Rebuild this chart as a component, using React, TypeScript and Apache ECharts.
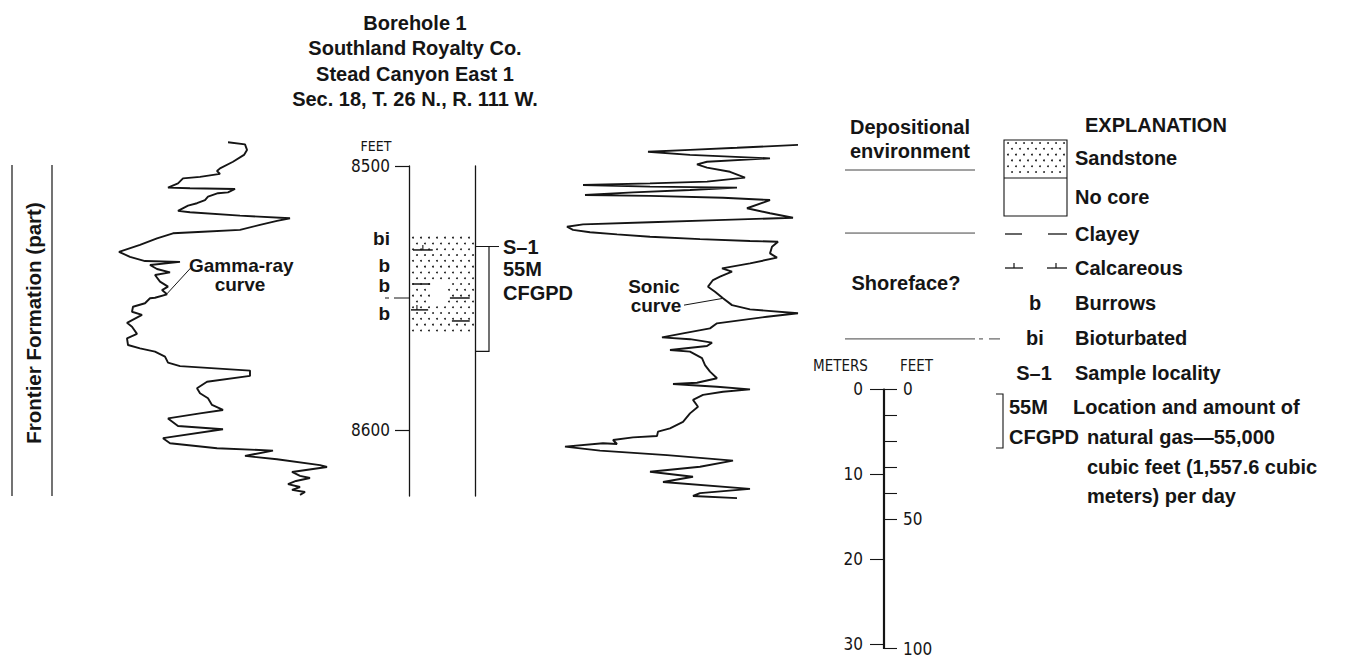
import React, { useEffect, useRef } from "react";
import * as echarts from "echarts";

// ---------------- Data ----------------
const titleLines = ["Borehole 1", "Southland Royalty Co.", "Stead Canyon East 1", "Sec. 18, T. 26 N., R. 111 W."];

// Gamma-ray log (relative reading) versus depth in feet
const gammaDepths = [
  8491.0, 8491.8, 8493.9, 8495.8, 8498.4, 8500.9, 8501.9, 8503.0, 8504.1, 8504.7,
  8506.6, 8508.2, 8508.4, 8508.7, 8510.0, 8510.3, 8511.6, 8512.9, 8514.1, 8515.0,
  8517.0, 8517.5, 8518.8, 8519.8, 8520.8, 8522.3, 8524.2, 8524.9, 8525.5, 8527.4,
  8529.9, 8532.5, 8534.4, 8536.0, 8536.3, 8537.5, 8539.0, 8540.3, 8541.3, 8543.8,
  8545.7, 8547.0, 8548.6, 8549.9, 8550.1, 8552.0, 8553.3, 8555.2, 8556.4, 8559.4,
  8560.9, 8563.6, 8565.3, 8567.8, 8569.1, 8570.3, 8572.2, 8574.5, 8575.8, 8577.5,
  8579.5, 8581.7, 8584.2, 8586.1, 8588.0, 8590.5, 8592.4, 8593.7, 8595.6, 8598.5,
  8599.7, 8603.1, 8605.0, 8606.9, 8607.8, 8609.8, 8611.1, 8613.3, 8614.0, 8615.9,
  8617.4, 8618.2, 8619.3, 8620.5, 8621.6, 8622.7, 8623.5, 8624.6,
];
const gammaValues = [
  128, 145, 147, 144, 133, 120, 117, 120, 100, 83,
  78, 68, 90, 135, 128, 118, 108, 105, 97, 88,
  78, 90, 140, 190, 177, 160, 140, 103, 73, 57,
  40, 19, 30, 45, 80, 50, 57, 70, 55, 60,
  68, 62, 67, 55, 50, 45, 33, 32, 42, 27,
  32, 37, 27, 28, 40, 55, 65, 68, 80, 150,
  150, 107, 97, 100, 108, 112, 123, 100, 68, 78,
  123, 63, 70, 117, 173, 145, 177, 220, 227, 192,
  200, 210, 196, 188, 200, 192, 205, 200,
];

// Sonic log (relative reading) versus depth in feet
const sonicDepths = [
  8492.0, 8493.1, 8493.9, 8494.6, 8495.8, 8497.1, 8498.4, 8499.4, 8500.6, 8502.2,
  8504.4, 8505.9, 8506.6, 8507.2, 8507.8, 8508.2, 8509.1, 8510.0, 8511.0, 8511.3,
  8512.0, 8512.9, 8516.0, 8517.9, 8519.6, 8520.5, 8521.3, 8522.1, 8523.0, 8524.2,
  8525.1, 8525.9, 8526.8, 8527.7, 8528.4, 8528.7, 8530.6, 8533.1, 8534.7, 8536.9,
  8538.8, 8540.0, 8541.9, 8543.2, 8545.7, 8547.6, 8550.1, 8552.7, 8554.3, 8555.8,
  8557.1, 8559.6, 8561.5, 8563.4, 8564.9, 8565.6, 8566.9, 8568.2, 8569.7, 8570.3,
  8572.8, 8575.4, 8577.9, 8580.4, 8582.1, 8582.6, 8583.6, 8584.6, 8585.5, 8586.7,
  8588.6, 8591.2, 8593.7, 8596.9, 8599.4, 8600.6, 8602.3, 8602.8, 8603.8, 8605.3,
  8605.0, 8606.3, 8607.8, 8609.5, 8611.6, 8613.9, 8615.8, 8617.7, 8619.7, 8622.3,
  8623.9, 8625.0, 8625.8,
];
const sonicValues = [
  248, 187, 140, 98, 140, 220, 157, 147, 157, 180,
  195, 157, 100, 33, 100, 187, 140, 83, 35, 100,
  173, 220, 197, 220, 243, 167, 100, 33, 17, 23,
  40, 67, 100, 150, 200, 228, 222, 220, 227, 200,
  172, 182, 170, 163, 158, 165, 173, 182, 200, 248,
  217, 167, 160, 133, 112, 140, 162, 157, 120, 140,
  152, 155, 160, 167, 147, 123, 167, 200, 173, 153,
  143, 148, 140, 133, 120, 108, 107, 83, 63, 67,
  53, 15, 50, 117, 183, 150, 100, 143, 113, 200,
  150, 143, 187,
];

// Core column
const depthTicks = [8500, 8600];
const sandstoneInterval = [8526.0, 8563.5];
const sandstoneGap = [0.32, 0.6, 8544.0, 8552.5]; // x-fraction from, to, depth from, to
const clayeyMarks = [
  [0.05, 0.32, 8544.7],
  [0.62, 0.92, 8550.0],
  [0.65, 0.92, 8558.7],
];
const calcareousMarks = [
  [0.06, 0.36, 0.21, 8531.8],
  [0.03, 0.29, 0.12, 8554.5],
];
const structureLabels = ["bi", "b", "b", "b"];
const structureDepths = [8527.3, 8537.5, 8545.1, 8555.7];
const sampleDepth = 8530.5;
const gasInterval = [8530.5, 8570.2];
const contactDepth = 8550.0;

// Depositional environment
const envBoundaryDepths = [8525.4, 8565.5];
const envTail = [false, true];

// Scale bar
const meterTicks = [0, 10, 20, 30];
const feetTicks = [0, 10, 20, 30, 40, 50, 100];
const feetLabels = [0, 50, 100];

// Explanation
const explanationRows = ["Sandstone", "No core", "Clayey", "Calcareous", "Burrows", "Bioturbated", "Sample locality"];
const gasExplanation = ["Location and amount of", "natural gas\u201455,000", "cubic feet (1,557.6 cubic", "meters) per day"];

// ---------------- Layout / style ----------------
const FONT = "'Liberation Sans', Arial, Helvetica, sans-serif";
const NARROW = "'Liberation Sans Narrow', 'DejaVu Sans Condensed', 'Liberation Sans', sans-serif";
const INK = "#151515";
const PXFT = 2.64;
const Y8500 = 166;
const CURVE_MIN = 8478;
const CURVE_MAX = 8630;
const COL_MIN = 8500;
const COL_MAX = 8625;
const curveTop = Y8500 - (8500 - CURVE_MIN) * PXFT;
const curveHeight = (CURVE_MAX - CURVE_MIN) * PXFT;
const TITLE_X = 415;
const HEADER_X = 910;
const FS = 20;
const FS_SMALL = 19;

function boldText(text: string, x: number, y: number, extra: any = {}) {
  return {
    type: "text",
    x,
    y,
    silent: true,
    style: {
      text,
      fill: INK,
      fontFamily: FONT,
      fontWeight: "bold",
      fontSize: FS,
      align: "left",
      verticalAlign: "middle",
      ...extra,
    },
  };
}
function narrowText(text: string, x: number, y: number, extra: any = {}) {
  return boldText(text, x, y, { fontFamily: NARROW, fontWeight: "normal", fontSize: 15, ...extra });
}
function seg(x1: number, y1: number, x2: number, y2: number, w = 1.2, color = INK) {
  return {
    type: "line",
    silent: true,
    shape: { x1, y1, x2, y2 },
    style: { stroke: color, lineWidth: w },
  };
}
function dotPattern(x1: number, y1: number, x2: number, y2: number, skip?: (x: number, y: number) => boolean) {
  const out: any[] = [];
  let row = 0;
  for (let y = y1 + 3; y <= y2 - 1.5; y += 5.8, row++) {
    for (let x = x1 + 4 + (row % 2) * 4; x <= x2 - 2; x += 8) {
      if (skip && skip(x, y)) continue;
      out.push({ type: "circle", shape: { cx: x, cy: y, r: 0.9 }, style: { fill: INK } });
    }
  }
  return out;
}

function buildGraphic() {
  const g: any[] = [];
  titleLines.forEach((t, i) => g.push(boldText(t, TITLE_X, 23 + i * 25.3, { align: "center", fontSize: 20 })));

  // Formation bracket
  g.push(seg(12, 165, 12, 496, 1.2));
  g.push(seg(52, 165, 52, 496, 1.2));
  g.push({
    type: "text",
    x: 33,
    y: 323,
    rotation: Math.PI / 2,
    silent: true,
    style: {
      text: "Frontier Formation (part)",
      fill: INK,
      fontFamily: FONT,
      fontWeight: "bold",
      fontSize: 20.5,
      align: "center",
      verticalAlign: "middle",
    },
  });

  // Curve labels
  g.push(boldText("Gamma-ray", 189, 265, { fontSize: FS_SMALL }));
  g.push(boldText("curve", 240, 284, { align: "center", fontSize: FS_SMALL }));
  g.push(boldText("Sonic", 654, 286, { align: "center", fontSize: FS_SMALL }));
  g.push(boldText("curve", 656, 305, { align: "center", fontSize: FS_SMALL }));

  // Depth column unit
  g.push(narrowText("FEET", 376, 146, { align: "center", fontSize: 14 }));

  // Depositional environment header
  g.push(boldText("Depositional", HEADER_X, 127, { align: "center" }));
  g.push(boldText("environment", HEADER_X, 151, { align: "center" }));
  g.push(seg(845, 170, 975, 170, 1, "#444"));
  g.push(boldText("Shoreface?", 906, 283, { align: "center" }));

  // Scale bar titles
  g.push(narrowText("METERS", 813, 366));
  g.push(narrowText("FEET", 900, 366));

  // Explanation
  g.push(boldText("EXPLANATION", 1085, 125));
  const bx1 = 1004, bx2 = 1067, bTop = 140, bMid = 178, bBot = 216;
  g.push({
    type: "rect",
    silent: true,
    shape: { x: bx1, y: bTop, width: bx2 - bx1, height: bBot - bTop },
    style: { fill: "none", stroke: INK, lineWidth: 1.1 },
  });
  g.push(seg(bx1, bMid, bx2, bMid, 1.1));
  dotPattern(bx1, bTop, bx2, bMid).forEach((d) => g.push(d));
  const tx = 1075;
  const rowY = [158, 197, 234, 268, 303, 338, 373];
  explanationRows.forEach((t, i) => g.push(boldText(t, tx, rowY[i])));
  // clayey symbol
  g.push(seg(1005, 234, 1022, 234, 1.3));
  g.push(seg(1048, 234, 1067, 234, 1.3));
  // calcareous symbol
  g.push(seg(1005, 268, 1023, 268, 1.3));
  g.push(seg(1014, 263, 1014, 268, 1.2));
  g.push(seg(1047, 268, 1067, 268, 1.3));
  g.push(seg(1056, 263, 1056, 268, 1.2));
  g.push(boldText("b", 1035, 303, { align: "center" }));
  g.push(boldText("bi", 1035, 338, { align: "center" }));
  g.push(boldText("S\u20131", 1034, 373, { align: "center" }));
  // gas bracket
  g.push({
    type: "polyline",
    silent: true,
    shape: { points: [[996, 394], [1003, 394], [1003, 448], [996, 448]] },
    style: { stroke: INK, fill: "none", lineWidth: 1.1 },
  });
  g.push(boldText("55M", 1009, 407));
  g.push(boldText("CFGPD", 1009, 437));
  g.push(boldText(gasExplanation[0], 1073, 407));
  g.push(boldText(gasExplanation[1], 1087, 437));
  g.push(boldText(gasExplanation[2], 1087, 467));
  g.push(boldText(gasExplanation[3], 1087, 496));
  return g;
}

function buildOption() {
  const hiddenY = (gridIndex: number, min: number, max: number) => ({
    gridIndex,
    type: "value",
    inverse: true,
    min,
    max,
    show: false,
  });
  const hiddenX = (gridIndex: number, min: number, max: number) => ({
    gridIndex,
    type: "value",
    min,
    max,
    show: false,
  });
  const lithMarks = [
    ...clayeyMarks.map((m) => [m[0], m[1], m[2], -1]),
    ...calcareousMarks.map((m) => [m[0], m[1], m[3], m[2]]),
  ];
  const textStyle = (text: string, align = "left", size = FS) => ({
    text,
    fill: INK,
    fontFamily: FONT,
    fontWeight: "bold",
    fontSize: size,
    align,
    verticalAlign: "middle",
  });

  return {
    animation: false,
    backgroundColor: "#ffffff",
    grid: [
      { left: 100, top: curveTop, width: 240, height: curveHeight },
      { left: 409, top: Y8500, width: 66, height: (COL_MAX - COL_MIN) * PXFT },
      { left: 550, top: curveTop, width: 260, height: curveHeight },
      { left: 842, top: curveTop, width: 160, height: curveHeight },
      { left: 883, top: 389, width: 1, height: 260 },
    ],
    xAxis: [
      hiddenX(0, 0, 240),
      hiddenX(1, 0, 1),
      hiddenX(2, 0, 260),
      hiddenX(3, 0, 160),
      hiddenX(4, 0, 1),
    ],
    yAxis: [
      hiddenY(0, CURVE_MIN, CURVE_MAX),
      {
        gridIndex: 1,
        type: "value",
        inverse: true,
        min: COL_MIN,
        max: COL_MAX,
        position: "left",
        axisLine: { show: true, lineStyle: { color: INK, width: 1.3 } },
        axisTick: { show: true, length: 14, customValues: depthTicks, lineStyle: { color: INK, width: 1.2 } },
        axisLabel: {
          customValues: depthTicks,
          margin: 19,
          fontFamily: NARROW,
          fontSize: 17,
          color: INK,
          formatter: (v: number) => String(v),
        },
        splitLine: { show: false },
      },
      {
        gridIndex: 1,
        type: "value",
        inverse: true,
        min: COL_MIN,
        max: COL_MAX,
        position: "right",
        axisLine: { show: true, lineStyle: { color: INK, width: 1.3 } },
        axisTick: { show: false },
        axisLabel: { show: false },
        splitLine: { show: false },
      },
      hiddenY(2, CURVE_MIN, CURVE_MAX),
      hiddenY(3, CURVE_MIN, CURVE_MAX),
      {
        gridIndex: 4,
        type: "value",
        inverse: true,
        min: 0,
        max: 30.48,
        position: "left",
        axisLine: { show: true, lineStyle: { color: INK, width: 1.2 } },
        axisTick: { show: true, length: 13, customValues: meterTicks, lineStyle: { color: INK, width: 1.1 } },
        axisLabel: {
          customValues: meterTicks,
          margin: 20,
          fontFamily: NARROW,
          fontSize: 17,
          color: INK,
          formatter: (v: number) => String(v),
        },
        splitLine: { show: false },
      },
      {
        gridIndex: 4,
        type: "value",
        inverse: true,
        min: 0,
        max: 100,
        position: "right",
        axisLine: { show: true, lineStyle: { color: INK, width: 1.2 } },
        axisTick: { show: true, length: 13, customValues: feetTicks, lineStyle: { color: INK, width: 1.1 } },
        axisLabel: {
          customValues: feetLabels,
          margin: 19,
          fontFamily: NARROW,
          fontSize: 17,
          color: INK,
          formatter: (v: number) => String(v),
        },
        splitLine: { show: false },
      },
    ],
    series: [
      {
        name: "Gamma-ray curve",
        type: "line",
        xAxisIndex: 0,
        yAxisIndex: 0,
        data: gammaValues.map((v, i) => [v, gammaDepths[i]]),
        showSymbol: false,
        symbol: "none",
        lineStyle: { color: INK, width: 1.9 },
        z: 3,
        markLine: {
          silent: true,
          symbol: "none",
          label: { show: false },
          lineStyle: { color: INK, width: 1, type: "solid" },
          data: [[{ coord: [67, 8548.4] }, { coord: [91, 8538.5] }]],
        },
      },
      {
        name: "Sonic curve",
        type: "line",
        xAxisIndex: 2,
        yAxisIndex: 3,
        data: sonicValues.map((v, i) => [v, sonicDepths[i]]),
        showSymbol: false,
        symbol: "none",
        lineStyle: { color: INK, width: 1.9 },
        z: 3,
        markLine: {
          silent: true,
          symbol: "none",
          label: { show: false },
          lineStyle: { color: INK, width: 1, type: "solid" },
          data: [[{ coord: [134, 8552.7] }, { coord: [172, 8550.2] }]],
        },
      },
      {
        name: "Sandstone",
        type: "custom",
        xAxisIndex: 1,
        yAxisIndex: 1,
        data: [[0, 1, sandstoneInterval[0], sandstoneInterval[1]]],
        encode: { x: [0, 1], y: [2, 3] },
        renderItem: (_p: any, api: any) => {
          const tl = api.coord([0, api.value(2)]);
          const br = api.coord([1, api.value(3)]);
          const gTL = api.coord([sandstoneGap[0], sandstoneGap[2]]);
          const gBR = api.coord([sandstoneGap[1], sandstoneGap[3]]);
          return {
            type: "group",
            children: dotPattern(tl[0], tl[1], br[0], br[1], (x, y) => x > gTL[0] && x < gBR[0] && y > gTL[1] && y < gBR[1]),
          };
        },
      },
      {
        name: "Lithology marks",
        type: "custom",
        xAxisIndex: 1,
        yAxisIndex: 1,
        data: lithMarks,
        encode: { x: [0, 1], y: 2 },
        renderItem: (_p: any, api: any) => {
          const a = api.coord([api.value(0), api.value(2)]);
          const b = api.coord([api.value(1), api.value(2)]);
          const children: any[] = [
            { type: "line", shape: { x1: a[0], y1: a[1], x2: b[0], y2: b[1] }, style: { stroke: INK, lineWidth: 1.5 } },
          ];
          const tick = api.value(3);
          if (tick >= 0) {
            const t = api.coord([tick, api.value(2)]);
            children.push({ type: "line", shape: { x1: t[0], y1: t[1] - 5, x2: t[0], y2: t[1] }, style: { stroke: INK, lineWidth: 1.1 } });
          }
          return { type: "group", children };
        },
      },
      {
        name: "Structures",
        type: "custom",
        xAxisIndex: 1,
        yAxisIndex: 1,
        data: structureDepths.map((d) => [0, d]),
        encode: { x: 0, y: 1 },
        renderItem: (p: any, api: any) => {
          const c = api.coord([0, api.value(1)]);
          return {
            type: "text",
            x: c[0] - 19,
            y: c[1],
            style: textStyle(structureLabels[p.dataIndex], "right", FS_SMALL),
          };
        },
      },
      {
        name: "Contact",
        type: "custom",
        xAxisIndex: 1,
        yAxisIndex: 1,
        data: [[0, contactDepth]],
        encode: { x: 0, y: 1 },
        renderItem: (_p: any, api: any) => {
          const c = api.coord([0, api.value(1)]);
          return {
            type: "group",
            children: [
              { type: "line", shape: { x1: c[0] - 24, y1: c[1], x2: c[0] - 20, y2: c[1] }, style: { stroke: INK, lineWidth: 1 } },
              { type: "line", shape: { x1: c[0] - 15, y1: c[1], x2: c[0], y2: c[1] }, style: { stroke: INK, lineWidth: 1 } },
            ],
          };
        },
      },
      {
        name: "Sample and gas",
        type: "custom",
        xAxisIndex: 1,
        yAxisIndex: 1,
        data: [[1, sampleDepth, gasInterval[0], gasInterval[1]]],
        encode: { x: 0, y: [1, 2, 3] },
        renderItem: (_p: any, api: any) => {
          const s = api.coord([1, api.value(1)]);
          const t = api.coord([1, api.value(2)]);
          const b = api.coord([1, api.value(3)]);
          const x = s[0];
          const bx = x + 14;
          const txt = (text: string, yy: number) => ({ type: "text", x: bx + 14, y: yy, style: textStyle(text) });
          return {
            type: "group",
            children: [
              {
                type: "polyline",
                shape: { points: [[x + 1, t[1]], [bx, t[1]], [bx, b[1]], [x + 1, b[1]]] },
                style: { stroke: INK, fill: "none", lineWidth: 1.2 },
              },
              { type: "line", shape: { x1: bx, y1: s[1], x2: bx + 10, y2: s[1] }, style: { stroke: INK, lineWidth: 1 } },
              txt("S\u20131", s[1]),
              txt("55M", t[1] + 22),
              txt("CFGPD", t[1] + 46),
            ],
          };
        },
      },
      {
        name: "Environment boundaries",
        type: "custom",
        xAxisIndex: 3,
        yAxisIndex: 4,
        data: envBoundaryDepths.map((d, i) => [0, d, envTail[i] ? 1 : 0]),
        encode: { x: 0, y: 1 },
        renderItem: (_p: any, api: any) => {
          const a = api.coord([3, api.value(1)]);
          const b = api.coord([133, api.value(1)]);
          const children: any[] = [
            { type: "line", shape: { x1: a[0], y1: a[1], x2: b[0], y2: b[1] }, style: { stroke: "#444", lineWidth: 1 } },
          ];
          if (api.value(2) === 1) {
            const c = api.coord([137, api.value(1)]);
            const d = api.coord([158, api.value(1)]);
            children.push({ type: "line", shape: { x1: c[0], y1: c[1], x2: c[0] + 4, y2: c[1] }, style: { stroke: "#444", lineWidth: 1 } });
            children.push({ type: "line", shape: { x1: c[0] + 10, y1: c[1], x2: d[0], y2: d[1] }, style: { stroke: "#444", lineWidth: 1 } });
          }
          return { type: "group", children };
        },
      },
    ],
    graphic: buildGraphic(),
  };
}

export default function App() {
  const ref = useRef<HTMLDivElement>(null);
  useEffect(() => {
    if (!ref.current) return;
    const chart = echarts.init(ref.current, undefined, { renderer: "svg" });
    chart.setOption(buildOption() as any);
    return () => chart.dispose();
  }, []);
  return (
    <div
      ref={ref}
      style={{ position: "fixed", left: 0, top: 0, width: 1366, height: 657, background: "#ffffff" }}
    />
  );
}
